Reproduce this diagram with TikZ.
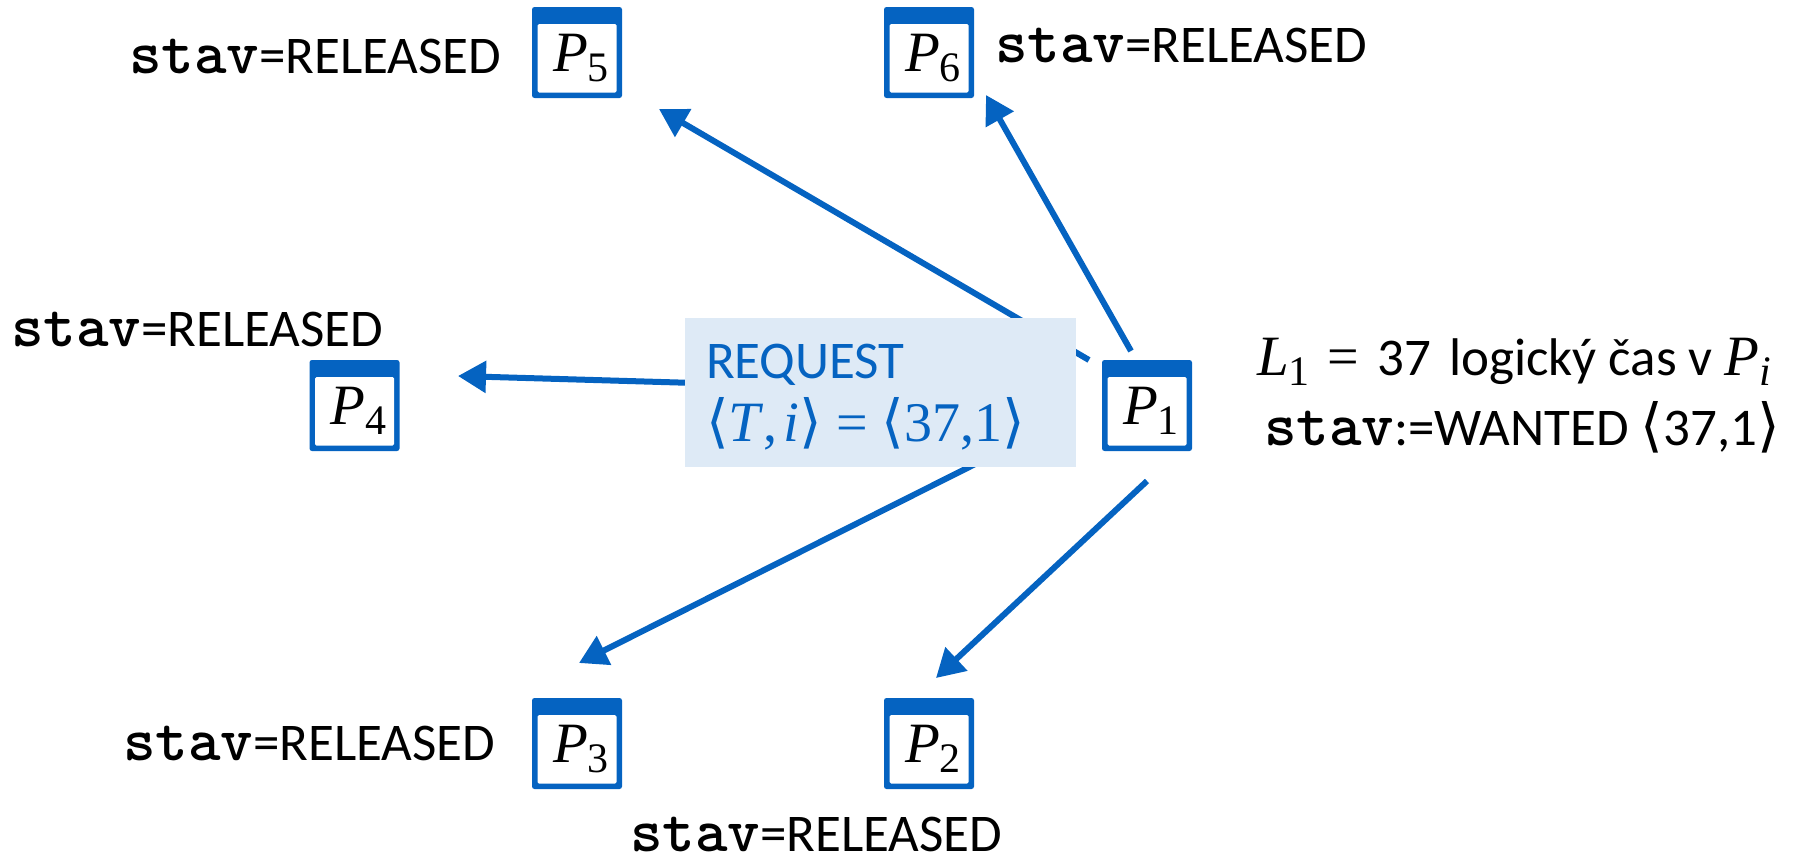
\documentclass[tikz,border=0pt]{standalone}
\usepackage{fontspec}
\setmainfont{Carlito}
\newfontfamily\mathf{Liberation Serif}
\newfontfamily\anglef{DejaVu Sans}
\usetikzlibrary{arrows.meta}
\definecolor{pblue}{HTML}{0563C1}
\definecolor{reqfill}{HTML}{DEEAF6}
\newcommand{\stavw}{{\fontsize{62}{60}\selectfont\ttfamily\bfseries\addfontfeature{FakeBold=1.6}stav}}
\newcommand{\mvar}[1]{{\fontsize{57}{60}\selectfont\mathf\itshape #1\/}}
\newcommand{\mnum}[1]{{\fontsize{56}{60}\selectfont\mathf #1}}
\newcommand{\msub}[1]{\raisebox{-10pt}{\fontsize{42}{44}\selectfont\mathf #1}}
\newcommand{\lang}{{\fontsize{58}{60}\selectfont\anglef ⟨}}
\newcommand{\rang}{{\fontsize{58}{60}\selectfont\anglef ⟩}}
\tikzset{
  x=1pt,y=-1pt,
  txt/.style={font=\fontsize{53}{60}\selectfont,inner sep=0pt,outer sep=0pt,text=black},
  lab/.style={txt,anchor=base west},
  arr/.style={draw=pblue,line width=6pt,-{Triangle[length=28pt,width=31pt]}},
  procbox/.style={minimum width=90pt,minimum height=91pt,inner sep=0pt,outer sep=0pt,draw=none},
  reqbox/.style={fill=reqfill,draw=none,minimum width=391pt,minimum height=149pt,inner sep=0pt,outer sep=0pt}
}
% frame + header bar + label
\newcommand{\proc}[4]{%
  \node[procbox] (#1) at (#2,#3) {};
  \fill[pblue,rounded corners=2.5pt] (#1.north west) rectangle (#1.south east);
  \fill[white,rounded corners=1.5pt] ([xshift=5.5pt,yshift=-17pt]#1.north west) rectangle ([xshift=-5.5pt,yshift=5.5pt]#1.south east);
  \node[txt,anchor=base] at ([xshift=4pt,yshift=-18.5pt]#1.center) {\mvar{P}\msub{#4}};
}
\begin{document}
\begin{tikzpicture}
\useasboundingbox (0,0) rectangle (1797,862);
\proc{p5}{577}{52.5}{5}
\proc{p6}{929}{52.5}{6}
\proc{p4}{354.5}{405.5}{4}
\proc{p1}{1147}{405.5}{1}
\proc{p3}{577}{743.5}{3}
\proc{p2}{929}{743.5}{2}
% free ends of the arrows
\coordinate (s5) at (1089,360);
\coordinate (e5) at (659,109);
\coordinate (s6) at (1131,351);
\coordinate (e6) at (986,95);
\coordinate (s4) at (1000,392);
\coordinate (e4) at (458,376);
\coordinate (s3) at (1031,436);
\coordinate (e3) at (579,663);
\coordinate (s2) at (1147,481);
\coordinate (e2) at (936,678);
\draw[arr] (s5) -- (e5);
\draw[arr] (s6) -- (e6);
\draw[arr] (s4) -- (e4);
\draw[arr] (s3) -- (e3);
\draw[arr] (s2) -- (e2);
\node[reqbox] (req) at (880.5,392.5) {};
\node[lab,text=pblue] (reqa) at (706,378) {REQUEST};
\node[lab,text=pblue] (reqb) at (706,441) {\lang\mvar{T}\mnum{,}\hspace{6pt}\mvar{i}\rang\hspace{14pt}\mnum{=}\hspace{14pt}\lang\mnum{37,1}\rang};
\node[lab] (l1) at (1257,375) {\mvar{L}\msub{1}\hspace{18pt}\mnum{=}\hspace{18pt}37\hspace{18pt}logický čas v \mvar{P}\msub{\itshape i}};
\node[lab] (st1) at (1264,445) {\stavw:=WANTED \lang 37,1\rang};
\node[lab] (l5) at (129,73) {\stavw=RELEASED};
\node[lab] (l6) at (995,62) {\stavw=RELEASED};
\node[lab] (l4) at (11,346) {\stavw=RELEASED};
\node[lab] (l3) at (123,760) {\stavw=RELEASED};
\node[lab] (l2) at (630,851) {\stavw=RELEASED};
\end{tikzpicture}
\end{document}
